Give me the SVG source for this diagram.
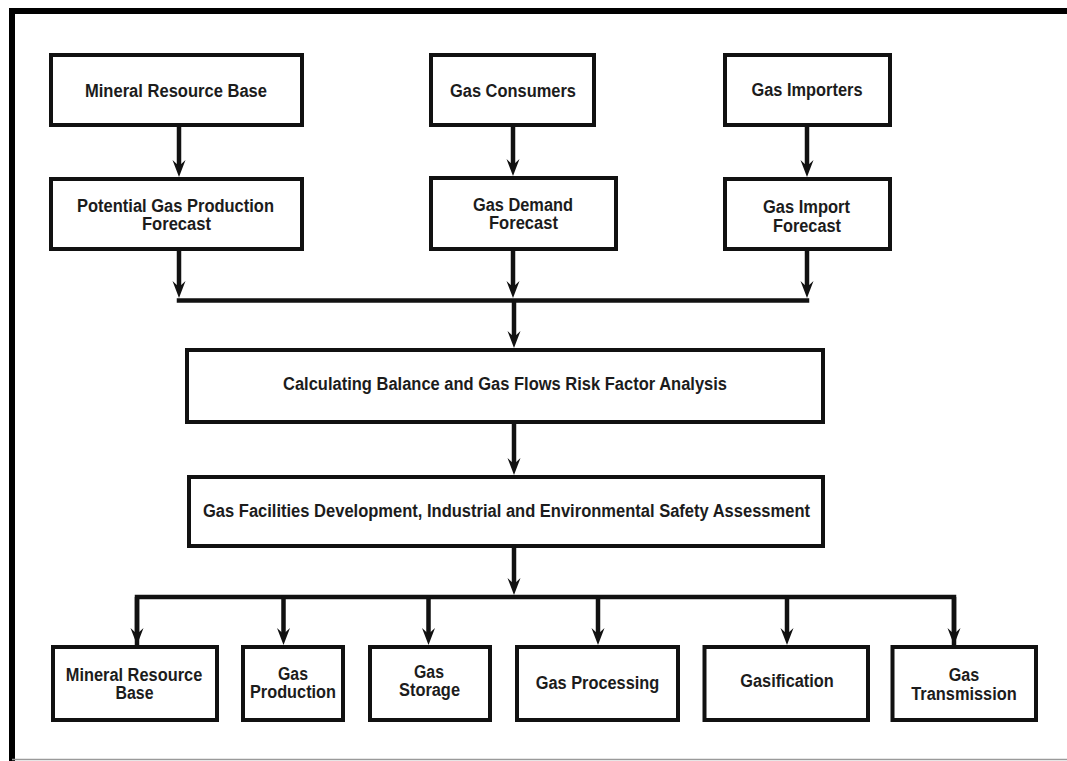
<svg xmlns="http://www.w3.org/2000/svg" width="1067" height="761" viewBox="0 0 1067 761">
  <style>
    .box { fill: #ffffff; stroke: #111111; stroke-width: 4; }
    .lbl { font-family: "Liberation Sans", Arial, sans-serif; font-weight: bold; font-size: 18px; fill: #1c1c1c; text-anchor: middle; }
    .con { fill: none; stroke: #111111; stroke-width: 4.5; stroke-linecap: butt; stroke-linejoin: miter; }
  </style>
  <defs>
    <marker id="ah" markerUnits="userSpaceOnUse" viewBox="-10 -8 20 16" refX="0" refY="0" markerWidth="20" markerHeight="16" orient="auto">
      <path d="M8,0 L-9,-6.5 L-3,0 L-9,6.5 Z" fill="#111111"/>
    </marker>
  </defs>
  <rect x="0" y="0" width="1067" height="761" fill="#ffffff"/>
  <g id="frame">
    <path d="M12,761 L12,11 L1067,11" fill="none" stroke="#000000" stroke-width="6"/>
    <line x1="12" y1="759.5" x2="1067" y2="759.5" stroke="#9a9a9a" stroke-width="1.5"/>
  </g>

  <g id="connectors">
    <line class="con" x1="179" y1="127" x2="179" y2="169" marker-end="url(#ah)"/>
    <line class="con" x1="513" y1="127" x2="513" y2="168" marker-end="url(#ah)"/>
    <line class="con" x1="807" y1="127" x2="807" y2="169" marker-end="url(#ah)"/>
    <line class="con" x1="179" y1="251" x2="179" y2="290" marker-end="url(#ah)"/>
    <line class="con" x1="513" y1="251" x2="513" y2="290" marker-end="url(#ah)"/>
    <line class="con" x1="807" y1="251" x2="807" y2="290" marker-end="url(#ah)"/>
    <path class="con" d="M176.75,300.5 L809.25,300.5"/>
    <line class="con" x1="514" y1="300" x2="514" y2="340" marker-end="url(#ah)"/>
    <line class="con" x1="514" y1="424" x2="514" y2="467" marker-end="url(#ah)"/>
    <line class="con" x1="514" y1="548" x2="514" y2="587" marker-end="url(#ah)"/>
    <path class="con" d="M137,645 L137,597 L954,597 L954,645"/>
    <line class="con" x1="137" y1="597" x2="137" y2="637" marker-end="url(#ah)"/>
    <line class="con" x1="283.5" y1="597" x2="283.5" y2="637" marker-end="url(#ah)"/>
    <line class="con" x1="428.5" y1="597" x2="428.5" y2="637" marker-end="url(#ah)"/>
    <line class="con" x1="598" y1="597" x2="598" y2="637" marker-end="url(#ah)"/>
    <line class="con" x1="787" y1="597" x2="787" y2="637" marker-end="url(#ah)"/>
    <line class="con" x1="954" y1="597" x2="954" y2="637" marker-end="url(#ah)"/>
  </g>

  <g id="node-mineral-top">
    <rect class="box" x="51" y="55" width="251" height="70"/>
    <text class="lbl" x="176" y="97" textLength="182" lengthAdjust="spacingAndGlyphs">Mineral Resource Base</text>
  </g>
  <g id="node-consumers">
    <rect class="box" x="431" y="55" width="163" height="70"/>
    <text class="lbl" x="513" y="97" textLength="126" lengthAdjust="spacingAndGlyphs">Gas Consumers</text>
  </g>
  <g id="node-importers">
    <rect class="box" x="725" y="55" width="165" height="70"/>
    <text class="lbl" x="807" y="96" textLength="111" lengthAdjust="spacingAndGlyphs">Gas Importers</text>
  </g>

  <g id="node-production-forecast">
    <rect class="box" x="51" y="179" width="251" height="70"/>
    <text class="lbl" x="175.5" y="212" textLength="197" lengthAdjust="spacingAndGlyphs">Potential Gas Production</text>
    <text class="lbl" x="176.5" y="230" textLength="69" lengthAdjust="spacingAndGlyphs">Forecast</text>
  </g>
  <g id="node-demand-forecast">
    <rect class="box" x="431" y="178" width="185" height="71"/>
    <text class="lbl" x="523" y="211" textLength="100" lengthAdjust="spacingAndGlyphs">Gas Demand</text>
    <text class="lbl" x="523.5" y="229" textLength="69" lengthAdjust="spacingAndGlyphs">Forecast</text>
  </g>
  <g id="node-import-forecast">
    <rect class="box" x="725" y="179" width="165" height="70"/>
    <text class="lbl" x="806.5" y="213" textLength="87" lengthAdjust="spacingAndGlyphs">Gas Import</text>
    <text class="lbl" x="807" y="231.5" textLength="68" lengthAdjust="spacingAndGlyphs">Forecast</text>
  </g>

  <g id="node-balance">
    <rect class="box" x="187" y="350" width="636" height="72"/>
    <text class="lbl" x="505" y="390" textLength="444" lengthAdjust="spacingAndGlyphs">Calculating Balance and Gas Flows Risk Factor Analysis</text>
  </g>
  <g id="node-facilities">
    <rect class="box" x="189" y="477" width="634" height="69"/>
    <text class="lbl" x="506.5" y="517" textLength="607" lengthAdjust="spacingAndGlyphs">Gas Facilities Development, Industrial and Environmental Safety Assessment</text>
  </g>

  <g id="node-mineral-bottom">
    <rect class="box" x="53" y="647" width="164" height="73"/>
    <text class="lbl" x="134" y="680.5" textLength="136.5" lengthAdjust="spacingAndGlyphs">Mineral Resource</text>
    <text class="lbl" x="134.5" y="699" textLength="38" lengthAdjust="spacingAndGlyphs">Base</text>
  </g>
  <g id="node-gas-production">
    <rect class="box" x="243" y="647" width="100" height="73"/>
    <text class="lbl" x="293" y="680" textLength="30" lengthAdjust="spacingAndGlyphs">Gas</text>
    <text class="lbl" x="293" y="698" textLength="86" lengthAdjust="spacingAndGlyphs">Production</text>
  </g>
  <g id="node-gas-storage">
    <rect class="box" x="370" y="647" width="120" height="73"/>
    <text class="lbl" x="429" y="677.5" textLength="30" lengthAdjust="spacingAndGlyphs">Gas</text>
    <text class="lbl" x="429.5" y="695.5" textLength="61" lengthAdjust="spacingAndGlyphs">Storage</text>
  </g>
  <g id="node-gas-processing">
    <rect class="box" x="517" y="647" width="161" height="73"/>
    <text class="lbl" x="597.5" y="689" textLength="123.6" lengthAdjust="spacingAndGlyphs">Gas Processing</text>
  </g>
  <g id="node-gasification">
    <rect class="box" x="704.5" y="647" width="163.5" height="73"/>
    <text class="lbl" x="787" y="687" textLength="93.5" lengthAdjust="spacingAndGlyphs">Gasification</text>
  </g>
  <g id="node-gas-transmission">
    <rect class="box" x="892.5" y="647" width="143.5" height="73"/>
    <text class="lbl" x="964" y="681" textLength="30.5" lengthAdjust="spacingAndGlyphs">Gas</text>
    <text class="lbl" x="964" y="700" textLength="105.5" lengthAdjust="spacingAndGlyphs">Transmission</text>
  </g>
</svg>
